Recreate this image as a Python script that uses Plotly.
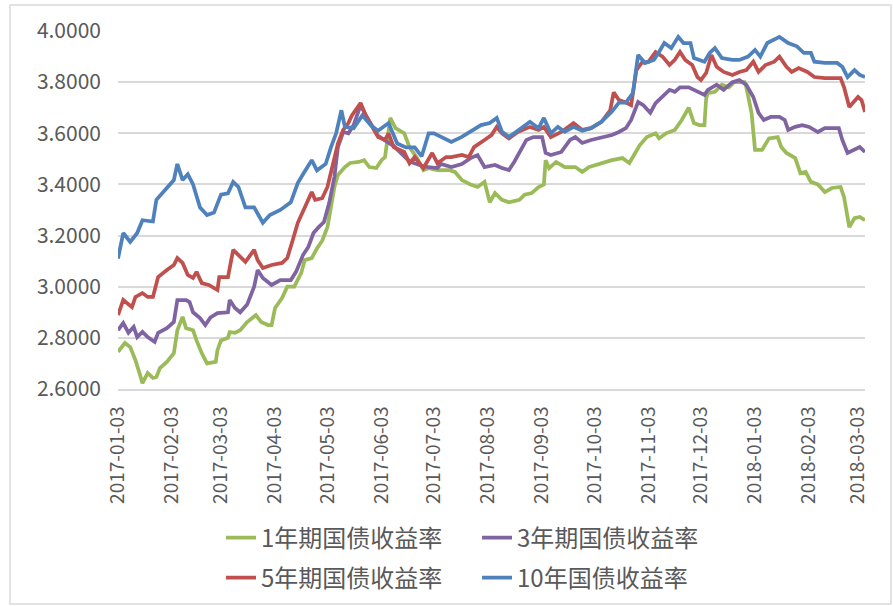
import plotly.graph_objects as go

# ---------------- data ----------------
series_names = ["1年期国债收益率", "3年期国债收益率", "5年期国债收益率", "10年国债收益率"]

dates_1y = ["2017-01-03","2017-01-07","2017-01-10","2017-01-13","2017-01-16","2017-01-17","2017-01-20","2017-01-23","2017-01-25","2017-01-27",
            "2017-01-31","2017-02-04","2017-02-06","2017-02-09","2017-02-11","2017-02-15","2017-02-17","2017-02-20","2017-02-23","2017-02-28",
            "2017-03-01","2017-03-03","2017-03-07","2017-03-08","2017-03-11","2017-03-14","2017-03-18","2017-03-23","2017-03-26","2017-03-30",
            "2017-04-01","2017-04-03","2017-04-07","2017-04-10","2017-04-14","2017-04-18","2017-04-20","2017-04-24","2017-04-27","2017-04-30",
            "2017-05-03","2017-05-05","2017-05-07","2017-05-09","2017-05-13","2017-05-16","2017-05-21","2017-05-24","2017-05-27","2017-05-31",
            "2017-06-03","2017-06-05","2017-06-07","2017-06-08","2017-06-11","2017-06-16","2017-06-19","2017-06-23","2017-06-27","2017-06-30",
            "2017-07-05","2017-07-12","2017-07-15","2017-07-19","2017-07-24","2017-07-28","2017-08-01","2017-08-04","2017-08-07","2017-08-11",
            "2017-08-15","2017-08-21","2017-08-24","2017-08-28","2017-09-01","2017-09-04","2017-09-05","2017-09-07","2017-09-11","2017-09-16",
            "2017-09-22","2017-09-26","2017-09-30","2017-10-07","2017-10-13","2017-10-19","2017-10-23","2017-10-25","2017-10-29","2017-11-02",
            "2017-11-07","2017-11-09","2017-11-13","2017-11-18","2017-11-22","2017-11-26","2017-11-29","2017-12-02","2017-12-05","2017-12-06",
            "2017-12-07","2017-12-11","2017-12-15","2017-12-19","2017-12-22","2017-12-28","2017-12-29","2018-01-01","2018-01-03","2018-01-07",
            "2018-01-11","2018-01-16","2018-01-18","2018-01-21","2018-01-26","2018-01-29","2018-02-01","2018-02-04","2018-02-08","2018-02-12",
            "2018-02-16","2018-02-21","2018-02-23","2018-02-26","2018-03-01","2018-03-04","2018-03-07"]
yield_1y = [2.745,2.780,2.764,2.713,2.647,2.623,2.662,2.643,2.647,2.682,
            2.706,2.740,2.830,2.882,2.838,2.830,2.790,2.740,2.700,2.706,
            2.752,2.790,2.800,2.823,2.820,2.830,2.862,2.889,2.862,2.850,
            2.850,2.917,2.956,3.000,3.000,3.054,3.104,3.112,3.150,3.180,
            3.233,3.310,3.390,3.437,3.468,3.484,3.488,3.495,3.468,3.464,
            3.495,3.507,3.600,3.660,3.620,3.600,3.546,3.507,3.456,3.464,
            3.456,3.456,3.449,3.417,3.400,3.390,3.410,3.330,3.366,3.340,
            3.330,3.340,3.360,3.366,3.390,3.400,3.495,3.464,3.488,3.468,
            3.468,3.449,3.468,3.484,3.495,3.503,3.484,3.507,3.554,3.585,
            3.600,3.580,3.600,3.613,3.652,3.700,3.640,3.632,3.632,3.738,
            3.757,3.762,3.790,3.780,3.800,3.800,3.780,3.680,3.535,3.535,
            3.580,3.585,3.546,3.523,3.503,3.444,3.449,3.410,3.400,3.370,
            3.386,3.390,3.350,3.233,3.268,3.273,3.260]

dates_3y = ["2017-01-03","2017-01-06","2017-01-09","2017-01-12","2017-01-14","2017-01-17","2017-01-20","2017-01-24","2017-01-26","2017-01-31",
            "2017-02-04","2017-02-06","2017-02-11","2017-02-13","2017-02-15","2017-02-19","2017-02-22","2017-02-25","2017-03-01","2017-03-04",
            "2017-03-07","2017-03-08","2017-03-11","2017-03-14","2017-03-18","2017-03-22","2017-03-24","2017-03-27","2017-04-01","2017-04-06",
            "2017-04-12","2017-04-15","2017-04-19","2017-04-22","2017-04-25","2017-04-28","2017-05-01","2017-05-04","2017-05-07","2017-05-09",
            "2017-05-12","2017-05-15","2017-05-18","2017-05-22","2017-05-25","2017-06-01","2017-06-10","2017-06-19","2017-06-27","2017-07-05",
            "2017-07-07","2017-07-13","2017-07-19","2017-07-24","2017-07-28","2017-08-01","2017-08-07","2017-08-11","2017-08-15","2017-08-18",
            "2017-08-22","2017-08-25","2017-08-29","2017-09-03","2017-09-05","2017-09-08","2017-09-14","2017-09-19","2017-09-22","2017-09-26",
            "2017-10-01","2017-10-07","2017-10-13","2017-10-17","2017-10-21","2017-10-24","2017-10-28","2017-10-31","2017-11-04","2017-11-07",
            "2017-11-11","2017-11-15","2017-11-18","2017-11-21","2017-11-26","2017-11-29","2017-12-05","2017-12-07","2017-12-12","2017-12-16",
            "2017-12-21","2017-12-25","2017-12-29","2018-01-02","2018-01-05","2018-01-08","2018-01-12","2018-01-17","2018-01-20","2018-01-22",
            "2018-01-26","2018-01-30","2018-02-03","2018-02-08","2018-02-12","2018-02-20","2018-02-22","2018-02-25","2018-03-01","2018-03-04",
            "2018-03-07"]
yield_3y = [2.830,2.858,2.820,2.843,2.803,2.823,2.803,2.784,2.820,2.838,
            2.862,2.948,2.948,2.940,2.900,2.877,2.850,2.880,2.897,2.897,
            2.900,2.948,2.917,2.900,2.930,3.000,3.065,3.034,3.007,3.026,
            3.026,3.058,3.124,3.155,3.210,3.233,3.253,3.327,3.430,3.546,
            3.605,3.600,3.632,3.710,3.670,3.590,3.550,3.490,3.470,3.464,
            3.480,3.468,3.480,3.503,3.515,3.468,3.476,3.464,3.456,3.488,
            3.535,3.574,3.585,3.585,3.523,3.515,3.527,3.574,3.585,3.562,
            3.574,3.585,3.593,3.605,3.620,3.652,3.722,3.710,3.680,3.718,
            3.742,3.770,3.762,3.780,3.780,3.770,3.750,3.770,3.790,3.770,
            3.800,3.808,3.790,3.742,3.680,3.652,3.664,3.664,3.652,3.613,
            3.625,3.632,3.625,3.605,3.620,3.620,3.574,3.523,3.535,3.546,
            3.527]

dates_5y = ["2017-01-03","2017-01-06","2017-01-11","2017-01-13","2017-01-17","2017-01-20","2017-01-23","2017-01-26","2017-01-31","2017-02-04",
            "2017-02-06","2017-02-09","2017-02-12","2017-02-15","2017-02-17","2017-02-20","2017-02-24","2017-03-01","2017-03-02","2017-03-07",
            "2017-03-10","2017-03-14","2017-03-17","2017-03-22","2017-03-24","2017-03-27","2017-04-01","2017-04-07","2017-04-10","2017-04-13",
            "2017-04-16","2017-04-20","2017-04-24","2017-04-26","2017-04-30","2017-05-03","2017-05-06","2017-05-09","2017-05-12","2017-05-15",
            "2017-05-17","2017-05-22","2017-05-25","2017-05-29","2017-06-01","2017-06-05","2017-06-07","2017-06-10","2017-06-16","2017-06-19",
            "2017-06-22","2017-06-27","2017-07-02","2017-07-05","2017-07-10","2017-07-13","2017-07-19","2017-07-23","2017-07-26","2017-08-01",
            "2017-08-05","2017-08-08","2017-08-11","2017-08-15","2017-08-20","2017-08-27","2017-09-01","2017-09-04","2017-09-08","2017-09-14",
            "2017-09-21","2017-09-26","2017-10-01","2017-10-07","2017-10-12","2017-10-14","2017-10-17","2017-10-21","2017-10-24","2017-10-27",
            "2017-10-30","2017-11-03","2017-11-07","2017-11-11","2017-11-15","2017-11-18","2017-11-21","2017-11-24","2017-11-28","2017-12-01",
            "2017-12-03","2017-12-06","2017-12-09","2017-12-12","2017-12-16","2017-12-21","2017-12-25","2017-12-29","2018-01-02","2018-01-05",
            "2018-01-09","2018-01-14","2018-01-17","2018-01-21","2018-01-24","2018-01-28","2018-02-02","2018-02-06","2018-02-12","2018-02-21",
            "2018-02-23","2018-02-26","2018-03-03","2018-03-05","2018-03-07"]
yield_5y = [2.889,2.948,2.920,2.960,2.975,2.960,2.960,3.038,3.065,3.085,
            3.112,3.093,3.046,3.034,3.058,3.014,3.007,2.987,3.038,3.038,
            3.144,3.116,3.097,3.144,3.104,3.073,3.085,3.093,3.112,3.180,
            3.250,3.310,3.370,3.340,3.346,3.390,3.470,3.560,3.613,3.640,
            3.670,3.718,3.670,3.625,3.585,3.574,3.600,3.546,3.527,3.483,
            3.507,3.464,3.523,3.483,3.507,3.507,3.515,3.507,3.546,3.574,
            3.593,3.625,3.600,3.580,3.605,3.625,3.613,3.625,3.585,3.605,
            3.640,3.613,3.620,3.645,3.690,3.760,3.730,3.720,3.710,3.847,
            3.875,3.880,3.918,3.900,3.867,3.887,3.918,3.887,3.867,3.820,
            3.808,3.836,3.906,3.860,3.840,3.828,3.840,3.847,3.880,3.840,
            3.867,3.880,3.900,3.860,3.840,3.855,3.840,3.820,3.816,3.816,
            3.780,3.703,3.742,3.730,3.683]

dates_10y = ["2017-01-03","2017-01-06","2017-01-10","2017-01-14","2017-01-17","2017-01-23","2017-01-25","2017-01-31","2017-02-04","2017-02-06",
             "2017-02-09","2017-02-12","2017-02-15","2017-02-19","2017-02-23","2017-02-27","2017-03-03","2017-03-07","2017-03-10","2017-03-13",
             "2017-03-17","2017-03-22","2017-03-27","2017-03-31","2017-04-06","2017-04-12","2017-04-16","2017-04-19","2017-04-24","2017-04-27",
             "2017-05-02","2017-05-05","2017-05-08","2017-05-11","2017-05-13","2017-05-18","2017-05-23","2017-05-28","2017-06-01","2017-06-07",
             "2017-06-12","2017-06-17","2017-06-22","2017-06-26","2017-06-30","2017-07-03","2017-07-13","2017-07-19","2017-07-24","2017-07-30",
             "2017-08-04","2017-08-08","2017-08-11","2017-08-15","2017-08-20","2017-08-27","2017-09-01","2017-09-04","2017-09-08","2017-09-12",
             "2017-09-16","2017-09-21","2017-09-26","2017-10-01","2017-10-07","2017-10-13","2017-10-17","2017-10-21","2017-10-25","2017-10-28",
             "2017-11-01","2017-11-06","2017-11-09","2017-11-12","2017-11-16","2017-11-20","2017-11-23","2017-11-27","2017-11-29","2017-12-05",
             "2017-12-08","2017-12-11","2017-12-15","2017-12-21","2017-12-25","2017-12-30","2018-01-03","2018-01-06","2018-01-10","2018-01-14",
             "2018-01-17","2018-01-22","2018-01-27","2018-01-31","2018-02-04","2018-02-06","2018-02-12","2018-02-19","2018-02-22","2018-02-25",
             "2018-03-01","2018-03-04","2018-03-07"]
yield_10y = [3.110,3.210,3.175,3.210,3.260,3.255,3.340,3.385,3.417,3.480,
             3.417,3.440,3.400,3.310,3.280,3.290,3.360,3.365,3.410,3.390,
             3.310,3.310,3.250,3.280,3.300,3.330,3.405,3.440,3.495,3.455,
             3.480,3.545,3.600,3.690,3.625,3.620,3.670,3.630,3.610,3.640,
             3.560,3.545,3.545,3.510,3.600,3.600,3.566,3.586,3.606,3.632,
             3.640,3.660,3.606,3.586,3.610,3.645,3.620,3.660,3.600,3.625,
             3.606,3.625,3.610,3.620,3.645,3.685,3.720,3.720,3.757,3.906,
             3.875,3.887,3.918,3.953,3.933,3.977,3.953,3.953,3.894,3.880,
             3.914,3.933,3.894,3.887,3.887,3.900,3.926,3.900,3.953,3.965,
             3.977,3.953,3.940,3.914,3.914,3.880,3.875,3.875,3.860,3.820,
             3.847,3.828,3.820]

tick_dates = ["2017-01-03","2017-02-03","2017-03-03","2017-04-03","2017-05-03","2017-06-03","2017-07-03","2017-08-03",
              "2017-09-03","2017-10-03","2017-11-03","2017-12-03","2018-01-03","2018-02-03","2018-03-03"]
y_ticks = [2.6, 2.8, 3.0, 3.2, 3.4, 3.6, 3.8, 4.0]

# ---------------- figure ----------------
colors = ["#9BBB59", "#8064A2", "#C0504D", "#4F81BD"]
xs = [dates_1y, dates_3y, dates_5y, dates_10y]
ys = [yield_1y, yield_3y, yield_5y, yield_10y]
legends = ["legend", "legend", "legend2", "legend2"]

fig = go.Figure()
for name, x, y, c, lg in zip(series_names, xs, ys, colors, legends):
    fig.add_trace(go.Scatter(x=x, y=y, name=name, mode="lines",
                             line=dict(color=c, width=3.75), legend=lg))

FONT = "Noto Sans CJK SC, Noto Sans, sans-serif"
GRAY = "#595959"

legend_common = dict(orientation="h", xref="container", yref="container",
                     x=0.2475, xanchor="left", yanchor="middle",
                     font=dict(size=24, color=GRAY, family=FONT), entrywidth=211,
                     entrywidthmode="pixels", traceorder="normal", bgcolor="rgba(0,0,0,0)")

fig.update_layout(
    width=893, height=606,
    margin=dict(l=118, r=28, t=31, b=217),
    paper_bgcolor="white", plot_bgcolor="white",
    font=dict(family=FONT, color=GRAY, size=20),
    showlegend=True,
    legend=dict(legend_common, y=0.1122),
    legend2=dict(legend_common, y=0.0462),
    xaxis=dict(type="date", range=["2017-01-03", "2018-03-07"],
               tickvals=tick_dates, ticktext=tick_dates, tickangle=-90,
               showgrid=False, showline=True, linecolor="#d9d9d9", linewidth=1.5,
               ticks="", tickfont=dict(size=19, color=GRAY, family=FONT), ticklabelstandoff=8),
    yaxis=dict(range=[2.6, 4.0], tickvals=y_ticks, tickformat=".4f",
               showgrid=True, gridcolor="#d9d9d9", gridwidth=1.5, zeroline=False,
               showline=False, ticks="", tickfont=dict(size=21, color=GRAY, family=FONT),
               ticklabelstandoff=16),
    shapes=[dict(type="rect", xref="paper", yref="paper",
                 x0=-0.1446, x1=1.0348, y0=-0.6006, y1=1.0726,
                 line=dict(color="#d9d9d9", width=1.5), fillcolor="rgba(0,0,0,0)", layer="below")],
)

fig.write_html("out.html", config={"displayModeBar": False},
               post_script="document.body.style.margin='0px';")
